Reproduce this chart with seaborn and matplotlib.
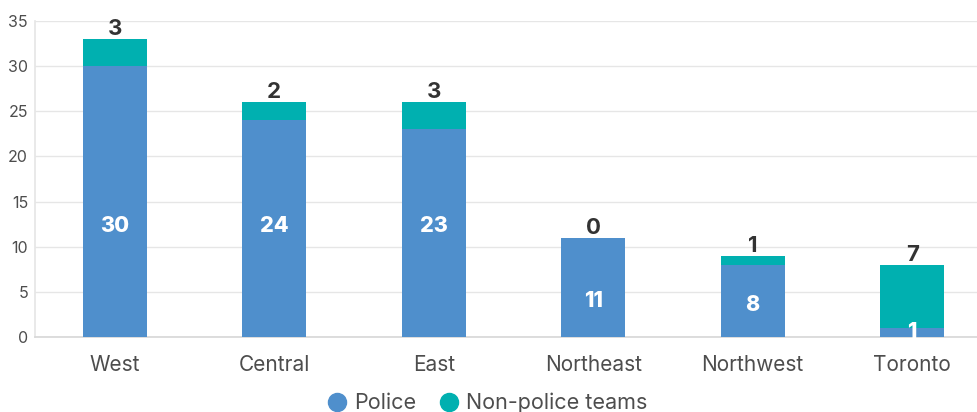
import matplotlib
matplotlib.use("Agg")
import matplotlib.pyplot as plt
import seaborn as sns
import pandas as pd
from matplotlib.lines import Line2D

regions = ["West", "Central", "East", "Northeast", "Northwest", "Toronto"]
police = [30, 24, 23, 11, 8, 1]
non_police = [3, 2, 3, 0, 1, 7]
y_ticks = [0, 5, 10, 15, 20, 25, 30, 35]

POLICE_C = "#4f8fcc"
TEAM_C = "#00b0b0"
GRID_C = "#e6e6e6"
TICK_TXT = "#4d4d4d"

sns.set_theme(style="white")
plt.rcParams["font.family"] = ["Inter", "DejaVu Sans"]

df = pd.DataFrame({"region": regions, "police": police, "non_police": non_police})
df["total"] = df["police"] + df["non_police"]

fig = plt.figure(figsize=(9.78, 4.12), dpi=100)
ax = fig.add_axes([35 / 978, 75 / 412, 957 / 978, 316 / 412])

sns.barplot(data=df, x="region", y="police", color=POLICE_C, width=0.4,
            saturation=1, linewidth=0, ax=ax, zorder=3)
sns.barplot(data=df, x="region", y="non_police", color=TEAM_C, width=0.4,
            saturation=1, linewidth=0, bottom=df["police"], ax=ax, zorder=3)

ax.set_xlim(-0.5, len(regions) - 0.5)
ax.set_ylim(0, 35)
ax.set_yticks(y_ticks)
ax.set_xlabel("")
ax.set_ylabel("")

ax.yaxis.grid(True, color=GRID_C, linewidth=1, zorder=0)
ax.set_axisbelow(True)
for side in ["top", "right"]:
    ax.spines[side].set_visible(False)
ax.spines["left"].set_color(GRID_C)
ax.spines["bottom"].set_color("#d8d8d8")

ax.tick_params(axis="y", length=0, labelsize=11.5, labelcolor=TICK_TXT, pad=5)
ax.tick_params(axis="x", which="major", length=0, labelsize=15,
               labelcolor=TICK_TXT, pad=13)
ax.set_xticks([i + 0.5 for i in range(len(regions) - 1)], minor=True)
ax.tick_params(axis="x", which="minor", direction="in", length=7,
               color="#d8d8d8", width=1)

# in-bar police counts
police_label_y = [12.3, 12.3, 12.3, 4.0, 3.5, 0.6]
for i, (v, ly) in enumerate(zip(police, police_label_y)):
    ax.text(i, ly, str(v), ha="center", va="center", color="white",
            fontsize=15.5, fontweight="heavy", zorder=5)

# non-police counts above each stack
for i, (v, tot) in enumerate(zip(non_police, df["total"])):
    ax.annotate(str(v), (i, tot), xytext=(0, 0), textcoords="offset points",
                ha="center", va="bottom", color="#333333", fontsize=16,
                fontweight="bold", zorder=5)

handles = [
    Line2D([], [], marker="o", linestyle="", markersize=13,
           markerfacecolor=POLICE_C, markeredgecolor=POLICE_C, label="Police"),
    Line2D([], [], marker="o", linestyle="", markersize=13,
           markerfacecolor=TEAM_C, markeredgecolor=TEAM_C, label="Non-police teams"),
]
fig.legend(handles=handles, loc="center", bbox_to_anchor=(487 / 978, 0.022),
           ncol=2, frameon=False, fontsize=15.5, labelcolor=TICK_TXT,
           handletextpad=0.3, columnspacing=1.0, handlelength=1.0)

fig.savefig("out.png", dpi=100)
